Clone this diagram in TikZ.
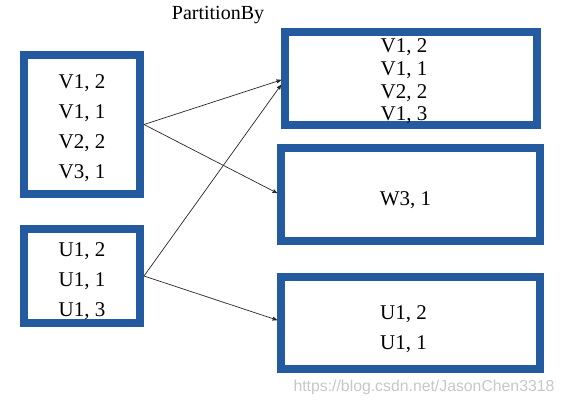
\documentclass[tikz,border=0pt]{standalone}
\usepackage{fontspec}
\setmainfont{Liberation Serif}
\newfontfamily\wmfont{Liberation Sans}
\usetikzlibrary{arrows}
\definecolor{boxblue}{RGB}{36,90,160}

\begin{document}
\begin{tikzpicture}[x=1pt,y=-1pt,
		part/.style={draw=boxblue, line width=8pt, inner sep=0pt},
		rows/.style={align=center, inner sep=0pt, font=\fontsize{21}{#1}\selectfont},
		flow/.style={draw=black!85, line width=0.7pt, ->, >=stealth'}]
			\useasboundingbox (0,0) rectangle (565,405);
			\node[font=\fontsize{20}{22}\selectfont] (title) at (218,15) {PartitionBy};
			% input partitions
			\node[part, minimum width=116pt, minimum height=139pt] (vin) at (82,124.5) {};
			\node[part, minimum width=116pt, minimum height=94pt] (uin) at (82,276) {};
			\node[rows=30] (vin-rows) at ([yshift=-3.5pt]vin.center) {V1, 2\\V1, 1\\V2, 2\\V3, 1};
			\node[rows=30] (uin-rows) at ([yshift=-5.5pt]uin.center) {U1, 2\\U1, 1\\U1, 3};
			% output partitions
			\node[part, minimum width=252pt, minimum height=93pt] (vout) at (411,78.5) {};
			\node[part, minimum width=259pt, minimum height=93pt] (wout) at (410.5,194.5) {};
			\node[part, minimum width=259pt, minimum height=92pt] (uout) at (410.5,323) {};
			\node[rows=22.7] (vout-rows) at ([xshift=-7pt,yshift=-3pt]vout.center) {V1, 2\\V1, 1\\V2, 2\\V1, 3};
			\node[rows=22] (wout-rows) at ([xshift=-5pt,yshift=-6pt]wout.center) {W3, 1};
			\node[rows=30] (uout-rows) at ([xshift=-7pt,yshift=-6.5pt]uout.center) {U1, 2\\U1, 1};
			\draw[flow] (vin.east) -- ([yshift=-1.5pt]vout.west);
			\draw[flow] (vin.east) -- ([yshift=1.5pt]wout.west);
			\draw[flow] (uin.east) -- ([yshift=-6.5pt]vout.west);
			\draw[flow] (uin.east) -- ([yshift=3pt]uout.west);
			\node[font=\wmfont\fontsize{15.8}{18}\selectfont, text=black!22] (mark) at (424,387) {https://blog.csdn.net/JasonChen3318};
		\end{tikzpicture}
\end{document}
